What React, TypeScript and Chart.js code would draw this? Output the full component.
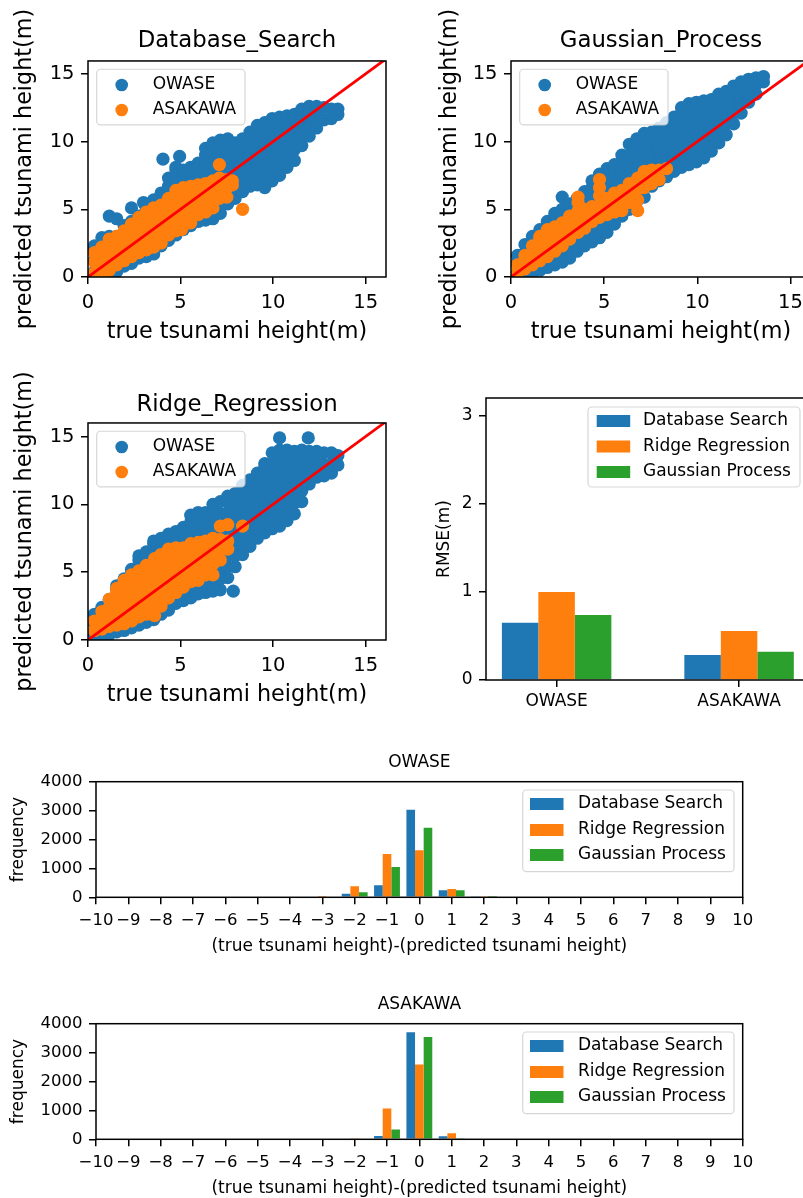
import React, { useEffect, useRef } from 'react';
import { Chart, registerables } from 'chart.js';

Chart.register(...registerables);

const FONT = "'DejaVu Sans', 'Liberation Sans', Arial, sans-serif";
Chart.defaults.font.family = FONT;
Chart.defaults.color = '#000';

const BLUE = '#1f77b4';
const ORANGE = '#ff7f0e';
const GREEN = '#2ca02c';
const RED = '#ff0000';
const METHOD_COLORS = [BLUE, ORANGE, GREEN];

// ---------- data ----------
const scatterSeries = ['OWASE', 'ASAKAWA'];
const scatterTicks = [0, 5, 10, 15];
const methodNames = ['Database Search', 'Ridge Regression', 'Gaussian Process'];

const rmseCategories = ['OWASE', 'ASAKAWA'];
const rmseTicks = [0, 1, 2, 3];
const rmseDatabaseSearch = [0.65, 0.284];
const rmseRidgeRegression = [1.0, 0.556];
const rmseGaussianProcess = [0.737, 0.32];

const histTicks = [-10, -9, -8, -7, -6, -5, -4, -3, -2, -1, 0, 1, 2, 3, 4, 5, 6, 7, 8, 9, 10];
const freqTicks = [0, 1000, 2000, 3000, 4000];
const histBins = [-3, -2, -1, 0, 1, 2];
const owaseDatabaseSearchFreq = [0, 127, 415, 3033, 242, 20];
const owaseRidgeRegressionFreq = [45, 380, 1500, 1626, 288, 20];
const owaseGaussianProcessFreq = [0, 173, 1050, 2410, 242, 5];
const asakawaDatabaseSearchFreq = [0, 0, 115, 3700, 104, 0];
const asakawaRidgeRegressionFreq = [0, 35, 1064, 2590, 208, 0];
const asakawaGaussianProcessFreq = [0, 0, 335, 3537, 35, 0];

type Cols = [number, number[]][];

// Database_Search: [true height, [predicted heights...]]
const dsOwaseCols: Cols = [
  [0.35, [0.4, 1.2, 2.0, 2.3]],
  [0.75, [0.4, 1.2, 2.0, 2.9]],
  [1.15, [0.4, 1.2, 2.0, 2.8, 3.0, 4.5]],
  [1.55, [0.4, 1.2, 2.0, 2.8, 3.0, 4.3]],
  [1.95, [0.8, 1.6, 2.4, 3.2, 3.8]],
  [2.35, [1.0, 1.8, 2.6, 3.4, 4.1, 5.1]],
  [2.75, [1.4, 2.2, 3.0, 3.8, 4.5]],
  [3.0, [5.5]],
  [3.15, [1.5, 2.3, 3.1, 3.9, 4.7, 5.0]],
  [3.55, [1.7, 2.5, 3.3, 4.1, 4.9, 5.7]],
  [3.95, [2.3, 3.1, 3.9, 4.7, 5.5, 6.2]],
  [4.05, [8.7]],
  [4.35, [2.7, 3.5, 4.3, 5.1, 5.9, 6.7, 7.3]],
  [4.75, [3.1, 3.9, 4.7, 5.5, 6.3, 7.1, 7.9, 8.1]],
  [4.95, [8.9]],
  [5.15, [3.5, 4.3, 5.1, 5.9, 6.7, 7.5, 7.9]],
  [5.55, [3.8, 4.6, 5.4, 6.2, 7.0, 7.8, 8.1]],
  [5.95, [4.1, 4.9, 5.7, 6.5, 7.3, 8.1, 8.4]],
  [6.35, [4.2, 5.0, 5.8, 6.6, 7.4, 8.2, 9.0, 9.5]],
  [6.75, [4.3, 5.1, 5.9, 6.7, 7.5, 8.3, 9.1, 9.9]],
  [7.15, [4.7, 5.5, 6.3, 7.1, 7.9, 8.7, 9.5, 10.1]],
  [7.55, [5.4, 6.2, 7.0, 7.8, 8.6, 9.4, 10.2]],
  [7.95, [5.8, 6.6, 7.4, 8.2, 9.0, 9.9]],
  [8.35, [6.3, 7.1, 7.9, 8.7, 9.5, 10.2]],
  [8.75, [6.7, 7.5, 8.3, 9.1, 9.9, 10.7]],
  [9.15, [6.8, 7.6, 8.4, 9.2, 10.0, 10.8, 11.2]],
  [9.55, [6.6, 7.4, 8.2, 9.0, 9.8, 10.6, 11.4]],
  [9.95, [7.1, 7.9, 8.7, 9.5, 10.3, 11.1, 11.7]],
  [10.35, [7.5, 8.3, 9.1, 9.9, 10.7, 11.5, 11.8]],
  [10.75, [8.1, 8.9, 9.7, 10.5, 11.3, 11.9]],
  [11.15, [8.6, 9.4, 10.2, 11.0, 11.8, 12.0]],
  [11.55, [9.7, 10.5, 11.3, 12.1, 12.4]],
  [11.95, [10.4, 11.2, 12.0, 12.6]],
  [12.35, [11.0, 11.8, 12.6]],
  [12.75, [11.6, 12.5]],
  [13.15, [11.7, 12.4]],
  [13.5, [12.0, 12.4]],
];
const dsAsakawaCols: Cols = [
  [0.35, [0.3, 1.1, 1.8]],
  [0.75, [0.3, 1.1, 1.9, 2.2]],
  [1.15, [0.5, 1.3, 2.1, 2.8]],
  [1.55, [0.9, 1.7, 2.5, 3.0]],
  [1.95, [1.2, 2.0, 2.8, 3.4]],
  [2.35, [1.5, 2.3, 3.1, 3.9]],
  [2.75, [1.8, 2.6, 3.4, 4.2, 4.4]],
  [3.15, [2.0, 2.8, 3.6, 4.4, 4.8]],
  [3.55, [2.2, 3.0, 3.8, 4.6, 5.1]],
  [3.95, [2.5, 3.3, 4.1, 4.9, 5.3]],
  [4.35, [3.1, 3.9, 4.7, 5.5, 5.8]],
  [4.75, [3.4, 4.2, 5.0, 5.8, 6.4]],
  [5.05, [3.5]],
  [5.15, [3.8, 4.6, 5.4, 6.2, 6.6]],
  [5.55, [4.0, 4.8, 5.6, 6.4, 6.7]],
  [5.95, [4.6, 5.4, 6.2, 6.8]],
  [6.35, [4.8, 5.6, 6.4, 6.9]],
  [6.75, [5.1, 5.9, 6.7, 7.1]],
  [7.1, [5.8, 6.6, 7.3, 8.3]],
  [7.5, [5.9, 6.6, 7.2]],
  [7.8, [6.8, 7.1]],
  [8.35, [5.0]],
];

// Gaussian_Process
const gpOwaseCols: Cols = [
  [0.35, [0.3, 1.1, 1.6]],
  [0.75, [0.2, 1.0, 1.8, 2.4]],
  [1.15, [0.3, 1.1, 1.9, 2.6, 3.0]],
  [1.55, [0.5, 1.3, 2.1, 2.9, 3.5]],
  [1.95, [0.7, 1.5, 2.3, 3.1, 3.8, 4.1]],
  [2.35, [0.9, 1.7, 2.5, 3.3, 4.1, 4.7]],
  [2.75, [1.1, 1.9, 2.7, 3.5, 4.3, 5.0, 5.9]],
  [3.15, [1.4, 2.2, 3.0, 3.8, 4.6, 5.4]],
  [3.55, [1.9, 2.7, 3.5, 4.3, 5.1, 5.8]],
  [3.95, [2.3, 3.1, 3.9, 4.7, 5.5, 6.3]],
  [4.35, [2.6, 3.4, 4.2, 5.0, 5.8, 6.6, 7.1]],
  [4.75, [2.9, 3.7, 4.5, 5.3, 6.1, 6.9, 7.6]],
  [5.15, [3.3, 4.1, 4.9, 5.7, 6.5, 7.3, 8.0]],
  [5.55, [3.9, 4.7, 5.5, 6.3, 7.1, 7.9, 8.3]],
  [5.95, [4.5, 5.3, 6.1, 6.9, 7.7, 8.5, 9.0]],
  [6.35, [5.0, 5.8, 6.6, 7.4, 8.2, 9.0, 9.8]],
  [6.75, [5.6, 6.4, 7.2, 8.0, 8.8, 9.6, 10.2]],
  [7.15, [5.9, 6.7, 7.5, 8.3, 9.1, 9.9, 10.6]],
  [7.55, [6.7, 7.5, 8.3, 9.1, 9.9, 10.7]],
  [7.95, [7.1, 7.9, 8.7, 9.5, 10.3, 11.0]],
  [8.35, [7.4, 8.2, 9.0, 9.8, 10.6, 11.4]],
  [8.75, [7.8, 8.6, 9.4, 10.2, 11.0, 11.8]],
  [9.15, [8.1, 8.9, 9.7, 10.5, 11.3, 12.1, 12.5]],
  [9.55, [8.3, 9.1, 9.9, 10.7, 11.5, 12.3, 12.8]],
  [9.95, [8.5, 9.3, 10.1, 10.9, 11.7, 12.5, 12.9]],
  [10.35, [8.8, 9.6, 10.4, 11.2, 12.0, 12.8, 13.0]],
  [10.75, [9.3, 10.1, 10.9, 11.7, 12.5, 13.1]],
  [11.15, [9.9, 10.7, 11.5, 12.3, 13.1, 13.5]],
  [11.55, [10.5, 11.3, 12.1, 12.9, 13.7]],
  [11.95, [11.3, 12.1, 12.9, 13.7, 14.1]],
  [12.35, [12.1, 12.9, 13.7, 14.4]],
  [12.75, [12.9, 13.6, 14.3, 14.6]],
  [13.15, [13.5, 14.2, 14.7]],
  [13.55, [14.4, 14.8]],
];
const gpAsakawaCols: Cols = [
  [0.35, [0.3, 0.9]],
  [0.75, [0.6, 1.3, 1.6]],
  [1.15, [0.9, 1.6, 2.3]],
  [1.55, [1.2, 2.0, 2.8, 3.0]],
  [1.95, [1.5, 2.3, 3.1, 3.5]],
  [2.35, [1.9, 2.7, 3.5, 3.7]],
  [2.75, [2.3, 3.1, 3.9, 4.0]],
  [3.15, [2.8, 3.6, 4.4, 4.5]],
  [3.6, [3.3, 4.1, 4.9, 5.5, 5.9]],
  [3.95, [3.6, 4.4, 5.0]],
  [4.35, [4.1, 4.9, 5.2]],
  [4.75, [4.4, 5.2, 6.0, 6.6, 7.2]],
  [5.15, [4.6, 5.4, 5.8]],
  [5.55, [4.8, 5.6, 6.2]],
  [5.95, [4.9, 5.7, 6.4]],
  [6.35, [5.5, 6.3, 6.9]],
  [6.8, [4.9, 5.7, 6.5, 7.3]],
  [7.15, [6.6, 7.3, 7.8]],
  [7.55, [6.9, 7.6, 7.9]],
  [7.95, [7.2, 7.9]],
  [8.35, [8.0]],
];

// Ridge_Regression
const rrOwaseCols: Cols = [
  [0.35, [0.4, 1.2, 1.9]],
  [0.75, [0.4, 1.2, 2.0, 2.4]],
  [1.15, [0.4, 1.2, 2.0, 2.8, 3.0]],
  [1.55, [0.6, 1.4, 2.2, 3.0, 3.8, 4.0]],
  [1.95, [0.7, 1.5, 2.3, 3.1, 3.9, 4.5]],
  [2.35, [0.9, 1.7, 2.5, 3.3, 4.1, 4.9, 5.2]],
  [2.75, [1.1, 1.9, 2.7, 3.5, 4.3, 5.1, 5.9, 6.2]],
  [3.15, [1.3, 2.1, 2.9, 3.7, 4.5, 5.3, 6.1, 6.5]],
  [3.55, [1.5, 2.3, 3.1, 3.9, 4.7, 5.5, 6.3, 7.1, 7.3]],
  [3.95, [1.9, 2.7, 3.5, 4.3, 5.1, 5.9, 6.7, 7.5]],
  [4.35, [2.2, 3.0, 3.8, 4.6, 5.4, 6.2, 7.0, 7.8]],
  [4.75, [2.7, 3.5, 4.3, 5.1, 5.9, 6.7, 7.5, 8.0]],
  [5.15, [2.9, 3.7, 4.5, 5.3, 6.1, 6.9, 7.7, 8.3]],
  [5.55, [3.1, 3.9, 4.7, 5.5, 6.3, 7.1, 7.9, 8.7, 9.2]],
  [5.95, [3.4, 4.2, 5.0, 5.8, 6.6, 7.4, 8.2, 9.0, 9.4]],
  [6.35, [3.5, 4.3, 5.1, 5.9, 6.7, 7.5, 8.3, 9.1, 9.4]],
  [6.75, [3.6, 4.4, 5.2, 6.0, 6.8, 7.6, 8.4, 9.2, 10.0]],
  [7.15, [3.7, 4.5, 5.3, 6.1, 6.9, 7.7, 8.5, 9.3, 10.2]],
  [7.55, [4.6, 5.4, 6.2, 7.0, 7.8, 8.6, 9.4, 10.2, 10.6]],
  [7.85, [3.6]],
  [7.95, [5.4, 6.2, 7.0, 7.8, 8.6, 9.4, 10.2, 10.8]],
  [8.35, [6.3, 7.1, 7.9, 8.7, 9.5, 10.3, 11.1, 11.4]],
  [8.75, [6.9, 7.7, 8.5, 9.3, 10.1, 10.9, 11.7, 11.8]],
  [9.15, [7.5, 8.3, 9.1, 9.9, 10.7, 11.5, 12.3]],
  [9.55, [7.9, 8.7, 9.5, 10.3, 11.1, 11.9, 12.7, 13.0]],
  [9.95, [8.2, 9.0, 9.8, 10.6, 11.4, 12.2, 13.0, 13.8]],
  [10.35, [8.4, 9.2, 10.0, 10.8, 11.6, 12.4, 13.2, 14.0, 14.9]],
  [10.75, [8.8, 9.6, 10.4, 11.2, 12.0, 12.8, 13.6, 14.0]],
  [11.15, [9.3, 10.1, 10.9, 11.7, 12.5, 13.3, 13.9]],
  [11.55, [10.2, 11.0, 11.8, 12.6, 13.4, 14.0]],
  [11.9, [14.9]],
  [11.95, [11.5, 12.3, 13.1, 13.9]],
  [12.35, [12.0, 12.8, 13.6, 13.9]],
  [12.75, [12.1, 12.9, 13.8]],
  [13.15, [12.3, 13.0, 13.8]],
  [13.5, [12.9, 13.6]],
];
const rrAsakawaCols: Cols = [
  [0.35, [0.7, 1.4]],
  [0.75, [0.8, 1.5, 2.1]],
  [1.15, [1.0, 1.7, 2.4, 3.0]],
  [1.55, [1.1, 1.9, 2.7, 3.5, 3.8]],
  [1.95, [1.2, 2.0, 2.8, 3.6, 4.4]],
  [2.35, [1.4, 2.2, 3.0, 3.8, 4.6, 4.8]],
  [2.75, [1.7, 2.5, 3.3, 4.1, 4.9, 5.1]],
  [3.15, [1.9, 2.7, 3.5, 4.3, 5.1, 5.5]],
  [3.6, [1.8, 2.6, 3.4, 4.2, 5.0, 5.8, 6.0]],
  [3.95, [2.5, 3.3, 4.1, 4.9, 5.7, 6.3]],
  [4.35, [3.1, 3.9, 4.7, 5.5, 6.3, 6.7]],
  [4.75, [3.5, 4.3, 5.1, 5.9, 6.7, 6.8]],
  [5.15, [3.9, 4.7, 5.5, 6.3, 6.8]],
  [5.55, [4.3, 5.1, 5.9, 6.7, 7.1]],
  [5.95, [4.4, 5.2, 6.0, 6.8, 7.2]],
  [6.35, [4.8, 5.6, 6.4, 7.3]],
  [6.75, [4.8, 5.6, 6.4, 7.2, 7.5]],
  [7.15, [5.9, 6.7, 7.4, 8.4]],
  [7.55, [6.7, 7.3, 8.5]],
  [8.35, [8.4]],
];

// ---------- helpers ----------
const toPoints = (cols: Cols) => cols.flatMap(([x, ys]) => ys.map((y) => ({ x, y })));

const fixedTicks = (values: number[]) => (scale: any) => {
  scale.ticks = values.map((value) => ({ value }));
};

const TICK_GRID = {
  display: true,
  drawOnChartArea: false,
  drawTicks: true,
  tickLength: 7,
  tickWidth: 1.5,
  tickColor: '#000',
  color: '#000',
  lineWidth: 1.5,
  offset: false,
};

interface LegendSpec {
  kind: 'dot' | 'patch';
  box: [number, number, number, number];
  rowsY: number[];
  markX: number;
  textX: number;
  labels: string[];
  colors: string[];
}

function roundRectPath(ctx: CanvasRenderingContext2D, x: number, y: number, w: number, h: number, r: number) {
  ctx.beginPath();
  ctx.moveTo(x + r, y);
  ctx.lineTo(x + w - r, y);
  ctx.arcTo(x + w, y, x + w, y + r, r);
  ctx.lineTo(x + w, y + h - r);
  ctx.arcTo(x + w, y + h, x + w - r, y + h, r);
  ctx.lineTo(x + r, y + h);
  ctx.arcTo(x, y + h, x, y + h - r, r);
  ctx.lineTo(x, y + r);
  ctx.arcTo(x, y, x + r, y, r);
  ctx.closePath();
}

function framePlugin(legend: LegendSpec) {
  return {
    id: 'mplFrame',
    afterDraw(chart: any) {
      const { ctx, chartArea: a } = chart;
      ctx.save();
      ctx.strokeStyle = '#000';
      ctx.lineWidth = 1.5;
      ctx.strokeRect(a.left, a.top, a.right - a.left, a.bottom - a.top);
      const [bx, by, bw, bh] = legend.box;
      roundRectPath(ctx, a.left + bx, a.top + by, bw, bh, 4);
      ctx.fillStyle = 'rgba(255,255,255,0.8)';
      ctx.fill();
      ctx.strokeStyle = 'rgba(204,204,204,0.8)';
      ctx.lineWidth = 1.2;
      ctx.stroke();
      ctx.font = `17px ${FONT}`;
      ctx.textBaseline = 'middle';
      ctx.textAlign = 'left';
      legend.labels.forEach((label, i) => {
        const cy = a.top + legend.rowsY[i];
        ctx.fillStyle = legend.colors[i];
        if (legend.kind === 'dot') {
          ctx.beginPath();
          ctx.arc(a.left + legend.markX, cy, 6.3, 0, Math.PI * 2);
          ctx.fill();
        } else {
          ctx.fillRect(a.left + legend.markX, cy - 6, 33.5, 12);
        }
        ctx.fillStyle = '#000';
        ctx.fillText(label, a.left + legend.textX, cy);
      });
      ctx.restore();
    },
  };
}

interface ScatterLayout {
  title: string;
  owase: Cols;
  asakawa: Cols;
  yAxisWidth: number;
  yTitlePad: number;
  rightPad: number;
  titlePad: { top: number; bottom: number };
  xAxisHeight: number;
  xTitlePad: number;
  xMax: number;
  yMax: number;
}

function scatterConfig(p: ScatterLayout): any {
  return {
    type: 'scatter',
    data: {
      datasets: [
        {
          label: 'y = x',
          data: [{ x: 0, y: 0 }, { x: 17, y: 17 }],
          showLine: true,
          borderColor: RED,
          borderWidth: 2.8,
          pointRadius: 0,
          order: 0,
          clip: 0,
        },
        {
          label: scatterSeries[1],
          data: toPoints(p.asakawa),
          backgroundColor: ORANGE,
          pointBackgroundColor: ORANGE,
          pointBorderWidth: 0,
          pointRadius: 6.6,
          order: 1,
          clip: 0,
        },
        {
          label: scatterSeries[0],
          data: toPoints(p.owase),
          backgroundColor: BLUE,
          pointBackgroundColor: BLUE,
          pointBorderWidth: 0,
          pointRadius: 6.6,
          order: 2,
          clip: 0,
        },
      ],
    },
    options: {
      responsive: false,
      animation: false,
      devicePixelRatio: 1,
      events: [],
      layout: { padding: { left: 0, right: p.rightPad, top: 0, bottom: 0 } },
      plugins: {
        legend: { display: false },
        tooltip: { enabled: false },
        title: {
          display: true,
          text: p.title,
          color: '#000',
          font: { size: 22.8, weight: 'normal' },
          padding: p.titlePad,
          fullSize: false,
        },
      },
      scales: {
        x: {
          type: 'linear',
          min: 0,
          max: p.xMax,
          afterBuildTicks: fixedTicks(scatterTicks),
          afterFit: (s: any) => {
            s.height = p.xAxisHeight;
          },
          grid: TICK_GRID,
          border: { display: false },
          ticks: { font: { size: 19.5 }, color: '#000', padding: 6.8, maxRotation: 0, autoSkip: false, callback: (v: any) => String(v) },
          title: {
            display: true,
            text: 'true tsunami height(m)',
            color: '#000',
            font: { size: 22.3 },
            padding: { top: 0, bottom: p.xTitlePad },
          },
        },
        y: {
          type: 'linear',
          min: 0,
          max: p.yMax,
          afterBuildTicks: fixedTicks(scatterTicks),
          afterFit: (s: any) => {
            s.width = p.yAxisWidth;
          },
          grid: TICK_GRID,
          border: { display: false },
          ticks: { font: { size: 19.5 }, color: '#000', padding: 6.5, autoSkip: false, callback: (v: any) => String(v) },
          title: {
            display: true,
            text: 'predicted tsunami height(m)',
            color: '#000',
            font: { size: 22.3 },
            padding: { top: p.yTitlePad, bottom: 0 },
          },
        },
      },
    },
    plugins: [
      framePlugin({
        kind: 'dot',
        box: [8.7, 8.3, 148.3, 55.7],
        rowsY: [24, 49],
        markX: 33.7,
        textX: 64.7,
        labels: scatterSeries,
        colors: [BLUE, ORANGE],
      }),
    ],
  };
}

function rmseConfig(): any {
  const series = [rmseDatabaseSearch, rmseRidgeRegression, rmseGaussianProcess];
  return {
    type: 'bar',
    data: {
      datasets: methodNames.map((name, i) => ({
        label: name,
        data: rmseCategories.map((_, j) => ({ x: j, y: series[i][j] })),
        backgroundColor: METHOD_COLORS[i],
        borderWidth: 0,
        categoryPercentage: 0.6,
        barPercentage: 1,
      })),
    },
    options: {
      responsive: false,
      animation: false,
      devicePixelRatio: 1,
      events: [],
      layout: { padding: { left: 0, right: 11.4, top: 18, bottom: 0 } },
      plugins: { legend: { display: false }, tooltip: { enabled: false }, title: { display: false } },
      scales: {
        x: {
          type: 'linear',
          min: -0.387,
          max: 1.381,
          offset: false,
          afterBuildTicks: fixedTicks([0, 1]),
          afterFit: (s: any) => {
            s.height = 50;
          },
          grid: TICK_GRID,
          border: { display: false },
          ticks: { font: { size: 17 }, color: '#000', padding: 4.5, maxRotation: 0, autoSkip: false, callback: (v: any) => rmseCategories[v] },
        },
        y: {
          type: 'linear',
          min: 0,
          max: 3.2,
          afterBuildTicks: fixedTicks(rmseTicks),
          afterFit: (s: any) => {
            s.width = 86;
          },
          grid: TICK_GRID,
          border: { display: false },
          ticks: { font: { size: 17 }, color: '#000', padding: 6.5, autoSkip: false, callback: (v: any) => String(v) },
          title: { display: true, text: 'RMSE(m)', color: '#000', font: { size: 17 }, padding: { top: 34.8, bottom: 0 } },
        },
      },
    },
    plugins: [
      framePlugin({
        kind: 'patch',
        box: [102, 9, 212, 80],
        rowsY: [23, 48.5, 74],
        markX: 110.7,
        textX: 157,
        labels: methodNames,
        colors: METHOD_COLORS,
      }),
    ],
  };
}

function histConfig(title: string, series: number[][]): any {
  return {
    type: 'bar',
    data: {
      datasets: methodNames.map((name, i) => ({
        label: name,
        data: histBins.map((b, j) => ({ x: b, y: series[i][j] })),
        backgroundColor: METHOD_COLORS[i],
        borderWidth: 0,
        categoryPercentage: 0.8,
        barPercentage: 1,
      })),
    },
    options: {
      responsive: false,
      animation: false,
      devicePixelRatio: 1,
      events: [],
      layout: { padding: { left: 0, right: 60.3, top: 0, bottom: 0 } },
      plugins: {
        legend: { display: false },
        tooltip: { enabled: false },
        title: {
          display: true,
          text: title,
          color: '#000',
          font: { size: 17, weight: 'normal' },
          padding: { top: 12.6, bottom: 8.7 },
          fullSize: false,
        },
      },
      scales: {
        x: {
          type: 'linear',
          min: -10,
          max: 10,
          offset: false,
          afterBuildTicks: fixedTicks(histTicks),
          afterFit: (s: any) => {
            s.height = 72.7;
          },
          grid: TICK_GRID,
          border: { display: false },
          ticks: {
            font: { size: 16.5 },
            color: '#000',
            padding: 6.3,
            maxRotation: 0,
            minRotation: 0,
            autoSkip: false,
            callback: (v: any) => (v < 0 ? '\u2212' + Math.abs(v) : String(v)),
          },
          title: {
            display: true,
            text: '(true tsunami height)-(predicted tsunami height)',
            color: '#000',
            font: { size: 17 },
            padding: { top: 0, bottom: 13 },
          },
        },
        y: {
          type: 'linear',
          min: 0,
          max: 4000,
          afterBuildTicks: fixedTicks(freqTicks),
          afterFit: (s: any) => {
            s.width = 96;
          },
          grid: TICK_GRID,
          border: { display: false },
          ticks: { font: { size: 16.5 }, color: '#000', padding: 6.5, autoSkip: false, callback: (v: any) => String(v) },
          title: { display: true, text: 'frequency', color: '#000', font: { size: 17 }, padding: { top: 8.8, bottom: 0 } },
        },
      },
    },
    plugins: [
      framePlugin({
        kind: 'patch',
        box: [426.7, 8.3, 211.3, 81.7],
        rowsY: [22.3, 48.3, 73.3],
        markX: 434,
        textX: 482,
        labels: methodNames,
        colors: METHOD_COLORS,
      }),
    ],
  };
}

function ChartCanvas(props: { left: number; top: number; width: number; height: number; make: () => any }) {
  const ref = useRef<HTMLCanvasElement | null>(null);
  useEffect(() => {
    if (!ref.current) return;
    const chart = new Chart(ref.current, props.make());
    return () => chart.destroy();
  }, []);
  return (
    <canvas
      ref={ref}
      width={props.width}
      height={props.height}
      style={{ position: 'absolute', left: props.left, top: props.top, width: props.width, height: props.height }}
    />
  );
}

export default function App() {
  return (
    <div style={{ position: 'absolute', left: 0, top: 0, width: 803, height: 1198, overflow: 'hidden', background: '#fff' }}>
      <ChartCanvas
        left={0}
        top={0}
        width={400}
        height={350}
        make={() =>
          scatterConfig({
            title: 'Database_Search',
            owase: dsOwaseCols,
            asakawa: dsAsakawaCols,
            yAxisWidth: 88,
            yTitlePad: 11.6,
            rightPad: 14,
            titlePad: { top: 27.5, bottom: 6.1 },
            xAxisHeight: 73,
            xTitlePad: 4.9,
            xMax: 16.1,
            yMax: 15.95,
          })
        }
      />
      <ChartCanvas
        left={420}
        top={0}
        width={400}
        height={350}
        make={() =>
          scatterConfig({
            title: 'Gaussian_Process',
            owase: gpOwaseCols,
            asakawa: gpAsakawaCols,
            yAxisWidth: 91,
            yTitlePad: 16.6,
            rightPad: 9,
            titlePad: { top: 27.5, bottom: 6.1 },
            xAxisHeight: 73,
            xTitlePad: 4.9,
            xMax: 16.1,
            yMax: 15.95,
          })
        }
      />
      <ChartCanvas
        left={0}
        top={370}
        width={400}
        height={350}
        make={() =>
          scatterConfig({
            title: 'Ridge_Regression',
            owase: rrOwaseCols,
            asakawa: rrAsakawaCols,
            yAxisWidth: 88,
            yTitlePad: 11.6,
            rightPad: 14,
            titlePad: { top: 21.5, bottom: 4.1 },
            xAxisHeight: 80,
            xTitlePad: 11.9,
            xMax: 16.1,
            yMax: 16.0,
          })
        }
      />
      <ChartCanvas left={400} top={380} width={420} height={350} make={rmseConfig} />
      <ChartCanvas
        left={0}
        top={740}
        width={803}
        height={230}
        make={() => histConfig('OWASE', [owaseDatabaseSearchFreq, owaseRidgeRegressionFreq, owaseGaussianProcessFreq])}
      />
      <ChartCanvas
        left={0}
        top={982}
        width={803}
        height={230}
        make={() => histConfig('ASAKAWA', [asakawaDatabaseSearchFreq, asakawaRidgeRegressionFreq, asakawaGaussianProcessFreq])}
      />
    </div>
  );
}
